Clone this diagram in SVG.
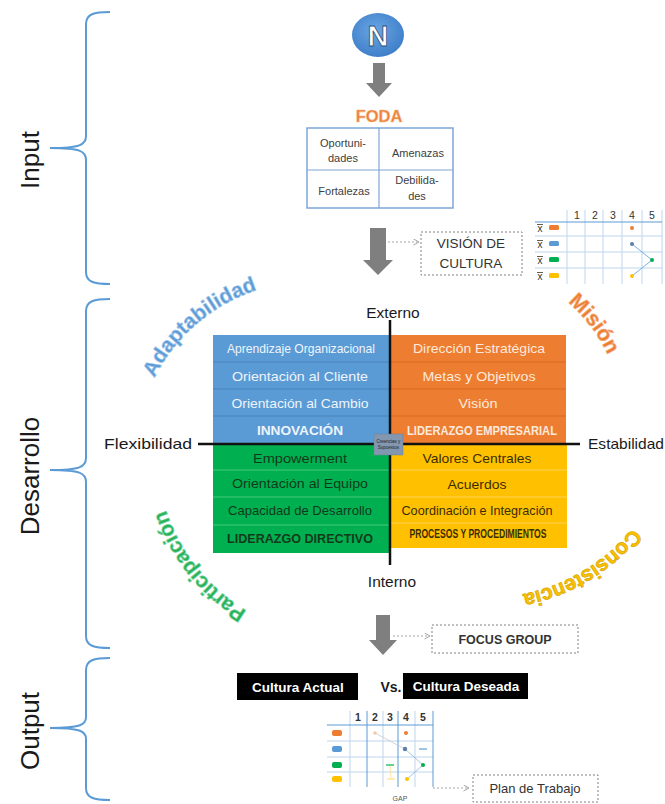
<svg xmlns="http://www.w3.org/2000/svg" width="665" height="804" viewBox="0 0 665 804">
<defs>
<style>
text{font-family:"Liberation Sans",Arial,sans-serif}
.brace{fill:none;stroke:#5b9bd5;stroke-width:2}
.lbl{font-size:26px;fill:#1a1a1a;text-anchor:middle}
.c{text-anchor:middle}
.q{font-size:13.5px;text-anchor:middle}
.qb{font-size:13px;font-weight:bold;text-anchor:middle}
.tb{font-size:11px;fill:#404040;text-anchor:middle}
.dash{fill:#fff;stroke:#808080;stroke-width:1;stroke-dasharray:2,2}
.dot{fill:none;stroke:#a6a6a6;stroke-width:1;stroke-dasharray:2,2;marker-end:url(#chev)}
.blk{fill:#7f7f7f}
.gl{stroke:#bdd7ee;stroke-width:1}
.gd{stroke:#5b9bd5;stroke-width:1}
.num{font-size:10.5px;fill:#333;text-anchor:middle}
.wa{font-size:21px;font-weight:bold;stroke-width:0.7}
</style>
<marker id="chev" markerWidth="8" markerHeight="8" refX="6" refY="3.5" orient="auto" markerUnits="userSpaceOnUse">
<path d="M0.5,0.5 L6,3.5 L0.5,6.5" fill="none" stroke="#a6a6a6" stroke-width="1"/>
</marker>
<radialGradient id="ng" cx="45%" cy="40%" r="60%">
<stop offset="0" stop-color="#6aa6e6"/>
<stop offset="1" stop-color="#3f7fc8"/>
</radialGradient>
<path id="pAd" d="M148,392 A175,175 0 0,1 272,286"/>
<path id="pMi" d="M560,296 A160,160 0 0,1 612,364"/>
<path id="pCo" d="M640,518 A185,185 0 0,1 510,596"/>
<path id="pPa" d="M256,616 A185,185 0 0,1 163,500"/>
</defs>
<rect width="665" height="804" fill="#fff"/>

<!-- braces and phase labels -->
<g id="phase-input">
<path class="brace" d="M110,12 C94,12 86,14 86,24 L86,136 C86,145 80,148 50,148 C80,148 86,151 86,160 L86,272 C86,282 94,284 110,284"/>
<text class="lbl" transform="translate(39,160) rotate(-90)">Input</text>
</g>
<g id="phase-desarrollo">
<path class="brace" d="M110,299 C94,299 86,301 86,311 L86,458 C86,467 80,470 50,470 C80,470 86,473 86,482 L86,636 C86,646 94,648 110,648"/>
<text class="lbl" transform="translate(39,476) rotate(-90)">Desarrollo</text>
</g>
<g id="phase-output">
<path class="brace" d="M110,658 C94,658 86,660 86,670 L86,717 C86,725 80,728 50,728 C80,728 86,731 86,739 L86,788 C86,798 94,800 110,800"/>
<text class="lbl" transform="translate(39,731) rotate(-90)">Output</text>
</g>

<!-- connectors -->
<g id="connectors">
<path class="blk" d="M373,63 H385 V83 H392 L379,97 L366,83 H373 Z"/>
<path class="blk" d="M370,228 H386 V260 H393 L378,275 L363,260 H370 Z"/>
<path class="blk" d="M376,615 H390 V640 H397 L383,655 L369,640 H376 Z"/>
<line class="dot" x1="388" y1="242" x2="419" y2="242"/>
<line class="dot" x1="393" y1="636" x2="430" y2="636"/>
<line class="dot" x1="433" y1="788" x2="469" y2="788"/>
</g>

<!-- N -->
<g id="node-n">
<ellipse cx="378" cy="35" rx="26" ry="22" fill="url(#ng)"/>
<text x="378" y="45.5" class="c" font-size="29" font-weight="bold" fill="#fff" stroke="#2b4f7c" stroke-width="0.8">N</text>
</g>

<!-- FODA -->
<g id="node-foda">
<text x="379" y="122" class="c" font-size="16.5" font-weight="bold" fill="#ed7d31" stroke="#f6b98e" stroke-width="0.6">FODA</text>
<rect x="307" y="128" width="146" height="80" fill="#fff" stroke="#7ea6d8" stroke-width="1.5"/>
<line x1="379" y1="128" x2="379" y2="208" stroke="#7ea6d8" stroke-width="1.2"/>
<line x1="307" y1="170" x2="453" y2="170" stroke="#7ea6d8" stroke-width="1.2"/>
<text class="tb" x="343" y="147">Oportuni-</text>
<text class="tb" x="343" y="162">dades</text>
<text class="tb" x="418" y="157">Amenazas</text>
<text class="tb" x="344" y="195">Fortalezas</text>
<text class="tb" x="417" y="184">Debilida-</text>
<text class="tb" x="417" y="200">des</text>
</g>

<!-- Vision de cultura -->
<g id="node-vision">
<rect class="dash" x="421" y="232" width="101" height="43"/>
<text x="471" y="248" class="c" font-size="13.5" fill="#333">VISIÓN DE</text>
<text x="471" y="268" class="c" font-size="13.5" fill="#333">CULTURA</text>
</g>

<!-- grid 1 -->
<g id="node-grid1">
<g class="gl">
<line x1="567" y1="210" x2="567" y2="284"/>
<line x1="585" y1="210" x2="585" y2="284"/>
<line x1="603" y1="210" x2="603" y2="284"/>
<line x1="622" y1="210" x2="622" y2="284"/>
<line x1="642" y1="210" x2="642" y2="284"/>
<line x1="662" y1="210" x2="662" y2="284"/>
<line x1="535" y1="236" x2="662" y2="236"/>
<line x1="535" y1="252" x2="662" y2="252"/>
<line x1="535" y1="268" x2="662" y2="268"/>
</g>
<line class="gd" x1="535" y1="222" x2="662" y2="222"/>
<text class="num" x="577" y="219">1</text>
<text class="num" x="595" y="219">2</text>
<text class="num" x="613" y="219">3</text>
<text class="num" x="632" y="219">4</text>
<text class="num" x="652" y="219">5</text>
<g font-size="10" fill="#333" text-anchor="middle">
<text x="540" y="232">x</text><text x="540" y="248">x</text><text x="540" y="264">x</text><text x="540" y="280">x</text>
</g>
<g stroke="#333" stroke-width="0.8">
<line x1="537" y1="224.5" x2="543" y2="224.5"/><line x1="537" y1="240.5" x2="543" y2="240.5"/>
<line x1="537" y1="256.5" x2="543" y2="256.5"/><line x1="537" y1="272.5" x2="543" y2="272.5"/>
</g>
<rect x="549" y="225" width="10" height="5" rx="1.5" fill="#ed7d31"/>
<rect x="549" y="241" width="10" height="5" rx="1.5" fill="#5b9bd5"/>
<rect x="549" y="257" width="10" height="5" rx="1.5" fill="#00b050"/>
<rect x="549" y="273" width="10" height="5" rx="1.5" fill="#ffc000"/>
<polyline points="632,244 652,260 632,276" fill="none" stroke="#5b9bd5" stroke-width="0.8"/>
<circle cx="632" cy="228" r="2" fill="#ed7d31"/>
<circle cx="632" cy="244" r="2" fill="#5b7fa8"/>
<circle cx="652" cy="260" r="2" fill="#00b050"/>
<circle cx="632" cy="276" r="2" fill="#ffc000"/>
</g>

<!-- quadrants -->
<g id="node-adaptabilidad-q">
<rect x="213" y="335" width="176" height="109" fill="#5b9bd5"/>
<g stroke="#4a82bb" stroke-width="1"><line x1="213" y1="362" x2="389" y2="362"/><line x1="213" y1="389" x2="389" y2="389"/><line x1="213" y1="416" x2="389" y2="416"/></g>
<g fill="#eef4fb">
<text class="q" x="301" y="353" font-size="12" textLength="148" lengthAdjust="spacingAndGlyphs">Aprendizaje Organizacional</text>
<text class="q" x="300" y="381" textLength="136" lengthAdjust="spacingAndGlyphs">Orientación al Cliente</text>
<text class="q" x="300" y="408" textLength="137" lengthAdjust="spacingAndGlyphs">Orientación al Cambio</text>
<text class="qb" x="300" y="435" textLength="86" lengthAdjust="spacingAndGlyphs">INNOVACIÓN</text>
</g>
</g>
<g id="node-mision-q">
<rect x="389" y="335" width="177" height="109" fill="#ed7d31"/>
<g stroke="#d96a22" stroke-width="1"><line x1="389" y1="362" x2="566" y2="362"/><line x1="389" y1="389" x2="566" y2="389"/><line x1="389" y1="416" x2="566" y2="416"/></g>
<g fill="#fdeadb">
<text class="q" x="479" y="353" textLength="132" lengthAdjust="spacingAndGlyphs">Dirección Estratégica</text>
<text class="q" x="479" y="381" textLength="113" lengthAdjust="spacingAndGlyphs">Metas y Objetivos</text>
<text class="q" x="478" y="408" textLength="39" lengthAdjust="spacingAndGlyphs">Visión</text>
<text class="qb" x="482" y="435" font-size="12" textLength="150" lengthAdjust="spacingAndGlyphs">LIDERAZGO EMPRESARIAL</text>
</g>
</g>
<g id="node-participacion-q">
<rect x="213" y="444" width="176" height="109" fill="#00b050"/>
<g stroke="#45c979" stroke-width="1"><line x1="213" y1="470" x2="389" y2="470"/><line x1="213" y1="497" x2="389" y2="497"/><line x1="213" y1="525" x2="389" y2="525"/></g>
<g fill="#123a1a">
<text class="q" x="300" y="463" textLength="94" lengthAdjust="spacingAndGlyphs">Empowerment</text>
<text class="q" x="300" y="488" textLength="136" lengthAdjust="spacingAndGlyphs">Orientación al Equipo</text>
<text class="q" x="300" y="515" font-size="12.5" textLength="144" lengthAdjust="spacingAndGlyphs">Capacidad de Desarrollo</text>
<text class="qb" x="300" y="543" textLength="146" lengthAdjust="spacingAndGlyphs">LIDERAZGO DIRECTIVO</text>
</g>
</g>
<g id="node-consistencia-q">
<rect x="389" y="444" width="178" height="104" fill="#ffc000"/>
<g stroke="#ffd257" stroke-width="1"><line x1="389" y1="470" x2="567" y2="470"/><line x1="389" y1="497" x2="567" y2="497"/><line x1="389" y1="523" x2="567" y2="523"/></g>
<g fill="#3a2e00">
<text class="q" x="477" y="463" textLength="109" lengthAdjust="spacingAndGlyphs">Valores Centrales</text>
<text class="q" x="477" y="489" textLength="59" lengthAdjust="spacingAndGlyphs">Acuerdos</text>
<text class="q" x="477" y="515" font-size="12" textLength="151" lengthAdjust="spacingAndGlyphs">Coordinación e Integración</text>
<text class="qb" x="478" y="538" font-size="8" textLength="137" lengthAdjust="spacingAndGlyphs">PROCESOS Y PROCEDIMIENTOS</text>
</g>
</g>

<!-- axes -->
<g id="axes">
<line x1="390" y1="320" x2="390" y2="565" stroke="#111" stroke-width="2.5"/>
<line x1="198" y1="444" x2="580" y2="444" stroke="#111" stroke-width="2.5"/>
<text x="393" y="318" class="c" font-size="15.5" fill="#1a1a1a">Externo</text>
<text x="392" y="587" class="c" font-size="15.5" fill="#1a1a1a">Interno</text>
<text x="104" y="449" font-size="15" fill="#1a1a1a" textLength="88" lengthAdjust="spacingAndGlyphs">Flexibilidad</text>
<text x="588" y="449" font-size="15" fill="#1a1a1a" textLength="76" lengthAdjust="spacingAndGlyphs">Estabilidad</text>
</g>
<g id="node-center">
<rect x="374" y="434" width="29" height="21" fill="#8497b0" stroke="#6b7f99" stroke-width="0.5"/>
<text x="388.5" y="443" class="c" font-size="4.5" fill="#222">Creencias y</text>
<text x="388.5" y="449" class="c" font-size="4.5" fill="#222">Supuestos</text>
</g>

<!-- curved labels -->
<g id="node-adaptabilidad">
<text class="wa" fill="#5b9bd5" stroke="#9ec3ea"><textPath href="#pAd" startOffset="50%" text-anchor="middle">Adaptabilidad</textPath></text>
</g>
<g id="node-mision">
<text class="wa" fill="#ed7d31" stroke="#f4a772"><textPath href="#pMi" startOffset="50%" text-anchor="middle">Misión</textPath></text>
</g>
<g id="node-consistencia">
<text class="wa" fill="#ffc000" stroke="#d4a800"><textPath href="#pCo" startOffset="50%" text-anchor="middle">Consistencia</textPath></text>
</g>
<g id="node-participacion">
<text class="wa" fill="#29b05a" stroke="#6fd39a"><textPath href="#pPa" startOffset="50%" text-anchor="middle">Participación</textPath></text>
</g>

<!-- focus group -->
<g id="node-focus">
<rect class="dash" x="432" y="625" width="146" height="28"/>
<text x="505" y="644" class="c" font-size="12.5" font-weight="bold" fill="#333">FOCUS GROUP</text>
</g>

<!-- cultura -->
<g id="node-cultura-actual">
<rect x="237" y="673" width="121" height="27" fill="#000"/>
<text x="298" y="692" class="c" font-size="13.5" font-weight="bold" fill="#fff">Cultura Actual</text>
</g>
<text x="391" y="692" class="c" font-size="14" font-weight="bold" fill="#1a1a1a">Vs.</text>
<g id="node-cultura-deseada">
<rect x="403" y="673" width="125" height="26" fill="#000"/>
<text x="466" y="691" class="c" font-size="13.5" font-weight="bold" fill="#fff">Cultura Deseada</text>
</g>

<!-- grid 2 -->
<g id="node-grid2">
<g class="gl">
<line x1="350" y1="711" x2="350" y2="787"/>
<line x1="383" y1="711" x2="383" y2="787"/>
<line x1="415" y1="711" x2="415" y2="787"/>
<line x1="327" y1="741" x2="433" y2="741"/>
<line x1="327" y1="757" x2="433" y2="757"/>
<line x1="327" y1="772" x2="433" y2="772"/>
</g>
<g class="gd">
<line x1="367" y1="711" x2="367" y2="787"/>
<line x1="398" y1="711" x2="398" y2="787"/>
<line x1="433" y1="711" x2="433" y2="787"/>
<line x1="327" y1="725" x2="433" y2="725"/>
</g>
<g font-weight="bold">
<text class="num" x="358" y="721">1</text>
<text class="num" x="375" y="721">2</text>
<text class="num" x="390" y="721">3</text>
<text class="num" x="406" y="721">4</text>
<text class="num" x="423" y="721">5</text>
</g>
<rect x="332" y="730" width="10" height="6" rx="2" fill="#ed7d31"/>
<rect x="332" y="746" width="10" height="6" rx="2" fill="#5b9bd5"/>
<rect x="332" y="762" width="10" height="6" rx="2" fill="#00b050"/>
<rect x="332" y="776" width="10" height="6" rx="2" fill="#ffc000"/>
<line x1="375" y1="733" x2="405" y2="749" stroke="#c9c9c9" stroke-width="0.8"/>
<polyline points="405,749 423,765 407,779" fill="none" stroke="#8fb3dc" stroke-width="0.8"/>
<line x1="390" y1="765" x2="391" y2="779" stroke="#ffe08a" stroke-width="0.8"/>
<circle cx="375" cy="733" r="1.8" fill="#f4c7a5"/>
<circle cx="406" cy="733" r="2" fill="#ed7d31"/>
<circle cx="405" cy="749" r="2.2" fill="#5b7fa8"/>
<line x1="419" y1="749" x2="427" y2="749" stroke="#5b9bd5" stroke-width="1.2"/>
<line x1="386" y1="765" x2="394" y2="765" stroke="#00b050" stroke-width="1.2"/>
<circle cx="423" cy="765" r="2" fill="#00b050"/>
<line x1="387" y1="779" x2="395" y2="779" stroke="#ffe08a" stroke-width="1.2"/>
<circle cx="407" cy="779" r="2" fill="#ffc000"/>
<text x="400" y="801" class="c" font-size="7" fill="#555">GAP</text>
</g>

<!-- plan de trabajo -->
<g id="node-plan">
<rect class="dash" x="473" y="775" width="125" height="27"/>
<text x="535" y="793" class="c" font-size="13" fill="#333">Plan de Trabajo</text>
</g>
</svg>
